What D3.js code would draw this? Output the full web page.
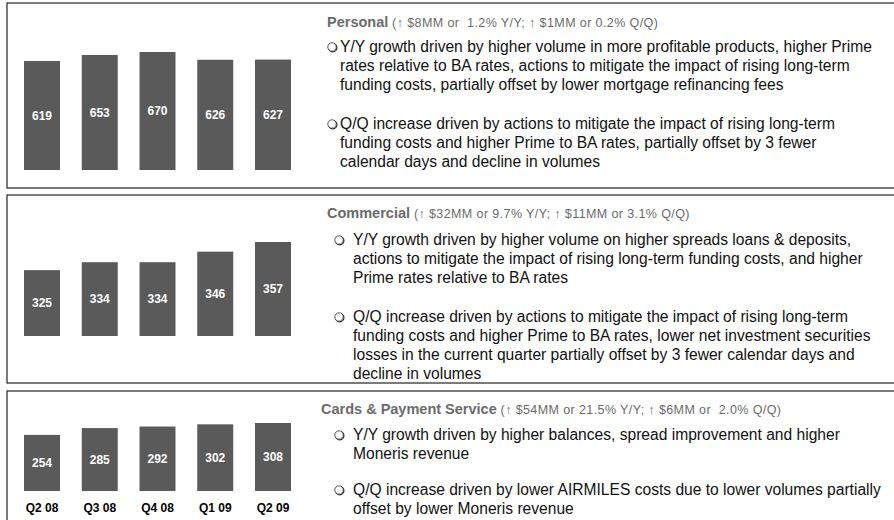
<!DOCTYPE html>
<html>
<head>
<meta charset="utf-8">
<script src="https://cdn.jsdelivr.net/npm/d3@7"></script>
<style>
  html, body { margin: 0; padding: 0; background: #fff; }
  svg { display: block; font-family: "Liberation Sans", Arial, sans-serif; }
</style>
</head>
<body>
<svg id="chart" width="894" height="520"></svg>
<script>
// --- DATA ---
var quarters = ["Q2 08", "Q3 08", "Q4 08", "Q1 09", "Q2 09"];

var personalValues   = [619, 653, 670, 626, 627];
var commercialValues = [325, 334, 334, 346, 357];
var cardsValues      = [254, 285, 292, 302, 308];

var panelTitles = ["Personal", "Commercial", "Cards & Payment Service"];
var panelSubtitles = [
    "(\u2191 $8MM or  1.2% Y/Y; \u2191 $1MM or 0.2% Q/Q)",
    "(\u2191 $32MM or 9.7% Y/Y; \u2191 $11MM or 3.1% Q/Q)",
    "(\u2191 $54MM or 21.5% Y/Y; \u2191 $6MM or  2.0% Q/Q)"
];

var personalBullets = [
    ["Y/Y growth driven by higher volume in more profitable products, higher Prime",
     "rates relative to BA rates, actions to mitigate the impact of rising long-term",
     "funding costs, partially offset by lower mortgage refinancing fees"],
    ["Q/Q increase driven by actions to mitigate the impact of rising long-term",
     "funding costs and higher Prime to BA rates, partially offset by 3 fewer",
     "calendar days and decline in volumes"]
];
var commercialBullets = [
    ["Y/Y growth driven by higher volume on higher spreads loans & deposits,",
     "actions to mitigate the impact of rising long-term funding costs, and higher",
     "Prime rates relative to BA rates"],
    ["Q/Q increase driven by actions to mitigate the impact of rising long-term",
     "funding costs and higher Prime to BA rates, lower net investment securities",
     "losses in the current quarter partially offset by 3 fewer calendar days and",
     "decline in volumes"]
];
var cardsBullets = [
    ["Y/Y growth driven by higher balances, spread improvement and higher",
     "Moneris revenue"],
    ["Q/Q increase driven by lower AIRMILES costs due to lower volumes partially",
     "offset by lower Moneris revenue"]
];

// --- LAYOUT ---
var barColor = "#5a5a5a";
var titleColor = "#6b6b6b";

var panels = [
    { values: personalValues,   bullets: personalBullets,   top: 3,   bottom: 188, barBase: 170, yMin: 0,   yTop: 52,  textX: 327, bulletX: 332, lineX: 340, titleY: 27,  firstLineY: 52,  bulletGap: 39 },
    { values: commercialValues, bullets: commercialBullets, top: 195, bottom: 383, barBase: 336, yMin: 250, yTop: 242, textX: 327, bulletX: 339, lineX: 353, titleY: 218, firstLineY: 245, bulletGap: 39 },
    { values: cardsValues,      bullets: cardsBullets,      top: 391, bottom: 540, barBase: 491, yMin: 0,   yTop: 423, textX: 321, bulletX: 339, lineX: 353, titleY: 414, firstLineY: 440, bulletGap: 36 }
];

var svg = d3.select("#chart");

var x = d3.scaleBand()
    .domain(quarters)
    .range([24, 291])
    .paddingInner(0.377)
    .paddingOuter(0);

panels.forEach(function(p, pi) {
    // panel frame
    svg.append("rect")
        .attr("x", 7).attr("y", p.top)
        .attr("width", 900).attr("height", p.bottom - p.top)
        .attr("fill", "none")
        .attr("stroke", "#333")
        .attr("stroke-width", 1.3);

    var maxVal = d3.max(p.values);
    var y = d3.scaleLinear()
        .domain([p.yMin, maxVal])
        .range([p.barBase, p.yTop]);

    var g = svg.append("g");

    g.selectAll("rect.bar")
        .data(p.values)
        .enter().append("rect")
        .attr("class", "bar")
        .attr("x", (d, i) => x(quarters[i]))
        .attr("y", d => y(d))
        .attr("width", x.bandwidth())
        .attr("height", d => p.barBase - y(d))
        .attr("fill", barColor);

    g.selectAll("text.val")
        .data(p.values)
        .enter().append("text")
        .attr("class", "val")
        .attr("x", (d, i) => x(quarters[i]) + x.bandwidth() / 2)
        .attr("y", d => (y(d) + p.barBase) / 2)
        .attr("dy", "0.35em")
        .attr("text-anchor", "middle")
        .attr("fill", "#fff")
        .attr("font-weight", "bold")
        .attr("font-size", 12)
        .text(d => d);

    // title + subtitle (keep the double spaces)
    var t = svg.append("text")
        .attr("x", p.textX)
        .attr("y", p.titleY)
        .attr("fill", titleColor)
        .style("white-space", "pre");
    t.append("tspan")
        .attr("font-weight", "bold")
        .attr("font-size", 14.5)
        .text(panelTitles[pi]);
    t.append("tspan")
        .attr("font-size", 12.5)
        .attr("letter-spacing", 0.4)
        .text(" " + panelSubtitles[pi]);

    // bullets (hollow circle with a little shadow, like the Wingdings glyph)
    var lineH = 19;
    var yPos = p.firstLineY;
    p.bullets.forEach(function(lines) {
        svg.append("circle")
            .attr("cx", p.bulletX + 0.7)
            .attr("cy", yPos - 5 + 0.7)
            .attr("r", 4.2)
            .attr("fill", "none")
            .attr("stroke", "#222")
            .attr("stroke-width", 1.2);
        svg.append("circle")
            .attr("cx", p.bulletX)
            .attr("cy", yPos - 5)
            .attr("r", 4.2)
            .attr("fill", "#fff")
            .attr("stroke", "#444")
            .attr("stroke-width", 0.9);
        lines.forEach(function(line, li) {
            svg.append("text")
                .attr("x", p.lineX)
                .attr("y", yPos + li * lineH)
                .attr("font-size", 15.6)
                .attr("fill", "#111")
                .text(line);
        });
        yPos += (lines.length - 1) * lineH + p.bulletGap;
    });
});

// quarter labels under the last panel
svg.selectAll("text.q")
    .data(quarters)
    .enter().append("text")
    .attr("class", "q")
    .attr("x", d => x(d) + x.bandwidth() / 2)
    .attr("y", 512)
    .attr("text-anchor", "middle")
    .attr("font-weight", "bold")
    .attr("font-size", 12)
    .attr("fill", "#000")
    .text(d => d);
</script>
</body>
</html>
